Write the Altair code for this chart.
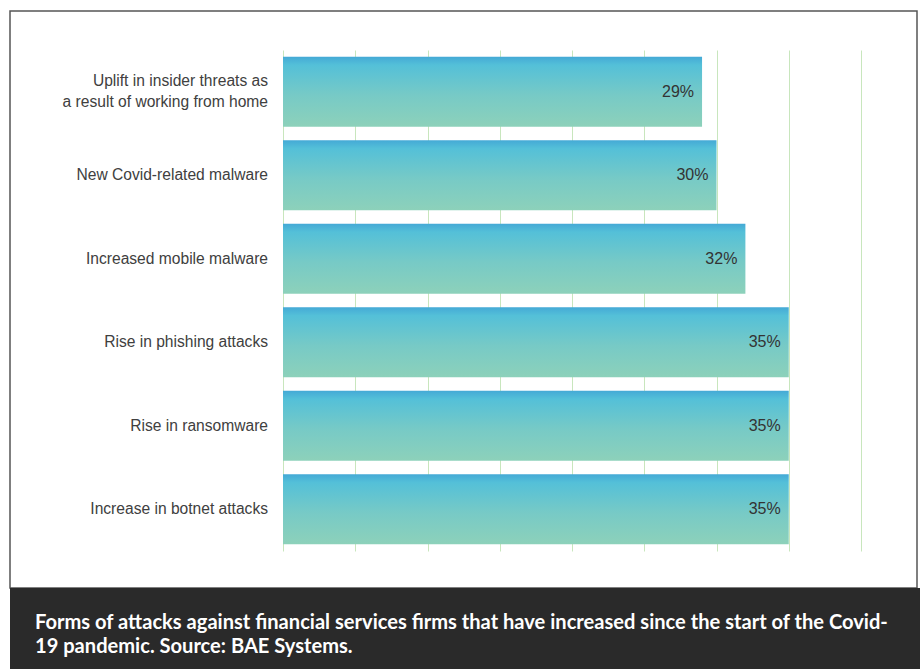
import altair as alt
import pandas as pd

categories = [
    "Uplift in insider threats as\na result of working from home",
    "New Covid-related malware",
    "Increased mobile malware",
    "Rise in phishing attacks",
    "Rise in ransomware",
    "Increase in botnet attacks",
]
values = [29, 30, 32, 35, 35, 35]
value_labels = ["29%", "30%", "32%", "35%", "35%", "35%"]
tick_values = [0, 5, 10, 15, 20, 25, 30, 35, 40]
caption_text = ("Forms of attacks against financial services firms that have increased since the start of the Covid-\n"
                "19 pandemic. Source: BAE Systems.")

df = pd.DataFrame({"category": categories, "value": values, "label": value_labels})
one = pd.DataFrame({"k": [0]})

W, H = 578, 501
PL, PT = 283, 50

y_enc = alt.Y("category:N", sort=categories, axis=None,
              scale=alt.Scale(paddingInner=0.16, paddingOuter=0.08))
x_enc = alt.X("value:Q", scale=alt.Scale(domain=[0, 40], nice=False),
              axis=alt.Axis(values=tick_values, grid=True, gridColor="#c8e6bd", gridWidth=1,
                            domain=False, ticks=False, labels=False, title=None))

grad = alt.Gradient(
    gradient="linear", x1=0, x2=0, y1=0, y2=1,
    stops=[
        alt.GradientStop(color="#44a9d6", offset=0),
        alt.GradientStop(color="#54c0d8", offset=0.12),
        alt.GradientStop(color="#77cac6", offset=0.55),
        alt.GradientStop(color="#8dd1ba", offset=1),
    ],
)

bars = alt.Chart(df).mark_bar(color=grad).encode(x=x_enc, y=y_enc)

label_style = dict(align="right", baseline="middle", dx=-15, fontSize=15.6, font="Liberation Sans",
                   color="#404040", lineBreak="\n", lineHeight=21)

cat_single = alt.Chart(df).transform_filter(
    "indexof(datum.category, '\\n') < 0"
).mark_text(**label_style).encode(
    y=alt.Y("category:N", sort=categories), x=alt.value(0), text="category:N")

cat_multi = alt.Chart(df).transform_filter(
    "indexof(datum.category, '\\n') >= 0"
).mark_text(dy=-11, **label_style).encode(
    y=alt.Y("category:N", sort=categories), x=alt.value(0), text="category:N")

val_labels = alt.Chart(df).mark_text(
    align="right", baseline="middle", dx=-8, fontSize=16, font="Liberation Sans", color="#333333"
).encode(y=alt.Y("category:N", sort=categories), x="value:Q", text="label:N")

frame = alt.Chart(one).mark_rect(fill=None, stroke="#555555", strokeWidth=1.5).encode(
    x=alt.value(10 - PL), x2=alt.value(917 - PL), y=alt.value(11 - PT), y2=alt.value(588 - PT))

cap_box = alt.Chart(one).mark_rect(fill="#2a2a2a").encode(
    x=alt.value(10 - PL), x2=alt.value(920 - PL), y=alt.value(588 - PT), y2=alt.value(669 - PT))

cap_text = alt.Chart(one).mark_text(
    align="left", baseline="alphabetic", fontSize=20.1, fontWeight="bold",
    font="Lato", color="#ffffff", lineBreak="\n", lineHeight=24
).encode(x=alt.value(35 - PL), y=alt.value(629 - PT), text=alt.value(caption_text))

chart = alt.layer(frame, bars, cat_single, cat_multi, val_labels, cap_box, cap_text).properties(
    width=W, height=H,
    autosize=alt.AutoSizeParams(type="none"),
    padding={"left": PL, "top": PT, "right": 920 - PL - W, "bottom": 669 - PT - H},
    background="#ffffff",
).configure_view(stroke=None)

chart.save("out.html", embed_options={"renderer": "svg", "actions": False})
